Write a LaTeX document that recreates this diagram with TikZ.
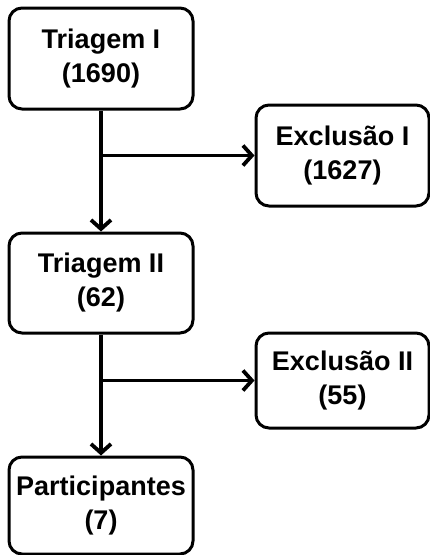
\documentclass[tikz,border=0pt]{standalone}
\usepackage{fontspec}
\setmainfont{Liberation Sans}
\usetikzlibrary{arrows.meta}
\begin{document}
\begin{tikzpicture}[x=1pt,y=-1pt,
  box/.style={draw=black, line width=3pt, rounded corners=13pt, fill=white,
    align=center, inner sep=0pt, font=\fontsize{27}{34}\selectfont\bfseries},
  conn/.style={line width=3.8pt, -{Straight Barb[length=9pt,width=20pt,line width=3.8pt]}}]
\useasboundingbox (0,0) rectangle (430,555);
\fill[white] (0,0) rectangle (430,555);
\node[box, minimum width=184pt, minimum height=101pt] (t1) at (101,58.5) {Triagem I\\(1690)};
\node[box, minimum width=173pt, minimum height=101pt] (e1) at (342.5,155.5) {Exclusão I\\(1627)};
\node[box, minimum width=184pt, minimum height=100pt] (t2) at (101,283) {Triagem II\\(62)};
\node[box, minimum width=173pt, minimum height=95pt] (e2) at (342.5,380.5) {Exclusão II\\(55)};
\node[box, minimum width=184pt, minimum height=97pt] (p) at (101,505.5) {Participantes\\(7)};
\coordinate (c1) at (t1.south |- e1.west);
\coordinate (c2) at (t2.south |- e2.west);
\draw[conn] (t1.south) -- (t2.north);
\draw[conn] (c1) -- (e1.west);
\draw[conn] (t2.south) -- (p.north);
\draw[conn] (c2) -- (e2.west);
\end{tikzpicture}
\end{document}
